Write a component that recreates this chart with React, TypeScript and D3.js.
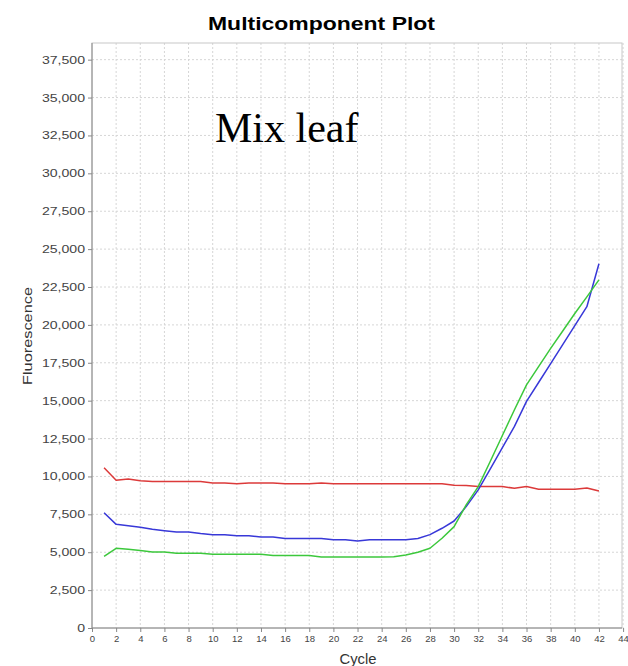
import React, { useEffect, useRef } from "react";
import * as d3 from "d3";

const cycles = d3.range(1, 43);
const redValues = [10580, 9750, 9830, 9720, 9660, 9660, 9660, 9660, 9660, 9570, 9570, 9510, 9570, 9570, 9570, 9510, 9510, 9510, 9570, 9520, 9520, 9520, 9520, 9520, 9520, 9520, 9520, 9520, 9520, 9420, 9400, 9330, 9330, 9330, 9220, 9330, 9160, 9160, 9160, 9160, 9240, 9040];
const blueValues = [7610, 6840, 6750, 6650, 6510, 6420, 6340, 6340, 6230, 6160, 6160, 6080, 6080, 6010, 6010, 5900, 5900, 5900, 5900, 5830, 5830, 5740, 5830, 5830, 5830, 5830, 5900, 6160, 6580, 7060, 8010, 9110, 10500, 11900, 13300, 14950, 16200, 17450, 18700, 19950, 21200, 24030];
const greenValues = [4730, 5260, 5200, 5110, 5020, 5020, 4930, 4930, 4930, 4870, 4870, 4870, 4870, 4870, 4780, 4780, 4780, 4780, 4690, 4690, 4690, 4690, 4690, 4690, 4700, 4820, 5000, 5260, 5920, 6690, 8120, 9330, 11000, 12700, 14400, 16040, 17250, 18450, 19600, 20750, 21850, 22970];
const xTicks = d3.range(0, 45, 2);
const yTicks = d3.range(0, 37501, 2500);
const series = [
  { name: "red", values: redValues, color: "#dc3a3a" },
  { name: "blue", values: blueValues, color: "#3838d8" },
  { name: "green", values: greenValues, color: "#3cc83c" },
];

export default function App() {
  const ref = useRef<SVGSVGElement>(null);
  useEffect(() => {
    const svg = d3.select(ref.current);
    svg.selectAll("*").remove();
    const left = 92, right = 622, top = 43, bottom = 628;
    const x = d3.scaleLinear().domain([0, 44]).range([left, left + 44 * 12.07]);
    const y = d3.scaleLinear().domain([0, 38600]).range([bottom, top]);
    const font = "'Liberation Sans', Arial, sans-serif";

    svg.append("rect").attr("width", 628).attr("height", 666).attr("fill", "#fff");

    // grid
    const g = svg.append("g");
    g.selectAll("line.vx").data(xTicks.filter((d) => d > 0)).join("line")
      .attr("x1", (d) => x(d)).attr("x2", (d) => x(d)).attr("y1", top).attr("y2", bottom)
      .attr("stroke", "#d6d6d6").attr("stroke-dasharray", "2,2");
    g.selectAll("line.hy").data(yTicks.filter((d) => d > 0)).join("line")
      .attr("x1", left).attr("x2", right).attr("y1", (d) => y(d)).attr("y2", (d) => y(d))
      .attr("stroke", "#d6d6d6").attr("stroke-dasharray", "2,2");

    // border
    svg.append("rect").attr("x", left).attr("y", top).attr("width", right - left).attr("height", bottom - top)
      .attr("fill", "none").attr("stroke", "#c8c8c8");

    // axes
    const xAxis = d3.axisBottom(x).tickValues(xTicks).tickSizeOuter(0).tickSize(4).tickPadding(3).tickFormat(d3.format("d"));
    const yAxis = d3.axisLeft(y).tickValues(yTicks).tickSizeOuter(0).tickSize(4).tickPadding(3).tickFormat(d3.format(","));
    const ax = svg.append("g").attr("transform", `translate(0,${bottom})`).call(xAxis);
    const ay = svg.append("g").attr("transform", `translate(${left},0)`).call(yAxis);
    [ax, ay].forEach((a) => {
      a.select(".domain").attr("stroke", "#888");
      a.selectAll(".tick line").attr("stroke", "#888");
      a.selectAll(".tick text").attr("fill", "#444").attr("font-family", font);
    });
    ax.selectAll(".tick text").attr("font-size", 9.5);
    ay.selectAll(".tick text").attr("font-size", 11).each(function () {
      const t = this as SVGTextElement;
      const w = t.getComputedTextLength();
      t.setAttribute("textLength", String(w * 1.28));
      t.setAttribute("lengthAdjust", "spacingAndGlyphs");
    });
    ax.select(".domain").attr("d", `M${left},0H${right}`);
    ay.select(".domain").attr("d", `M0,${bottom}V${top}`);

    // lines
    const line = d3.line<number>().x((_, i) => x(cycles[i])).y((d) => y(d));
    series.forEach((s) => {
      svg.append("path").attr("d", line(s.values)).attr("fill", "none")
        .attr("stroke", s.color).attr("stroke-width", 1.5).attr("stroke-linejoin", "round");
    });

    // texts
    svg.append("text").attr("x", 321.5).attr("y", 30).attr("text-anchor", "middle")
      .attr("font-family", font).attr("font-weight", "bold").attr("font-size", 18.5).attr("fill", "#000")
      .attr("textLength", 227).attr("lengthAdjust", "spacingAndGlyphs")
      .text("Multicomponent Plot");
    svg.append("text").attr("x", 358).attr("y", 664).attr("text-anchor", "middle")
      .attr("font-family", font).attr("font-size", 14.5).attr("fill", "#333")
      .attr("textLength", 37).attr("lengthAdjust", "spacingAndGlyphs").text("Cycle");
    svg.append("text").attr("transform", "translate(32,336) rotate(-90)").attr("text-anchor", "middle")
      .attr("font-family", font).attr("font-size", 13.5).attr("fill", "#333")
      .attr("textLength", 98).attr("lengthAdjust", "spacingAndGlyphs").text("Fluorescence");
    svg.append("text").attr("x", 215).attr("y", 142)
      .attr("font-family", "'Liberation Serif', 'Times New Roman', serif").attr("font-size", 42).attr("fill", "#000")
      .text("Mix leaf");
  }, []);
  return (
    <svg ref={ref} width={628} height={666} style={{ position: "absolute", left: 0, top: 0 }} />
  );
}
